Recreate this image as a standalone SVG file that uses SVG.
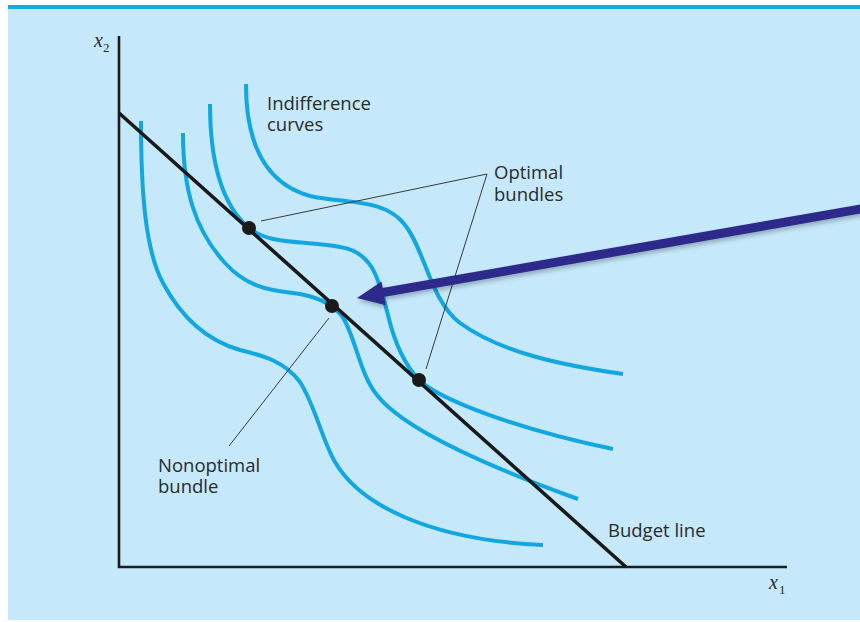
<svg xmlns="http://www.w3.org/2000/svg" width="860" height="622" viewBox="0 0 860 622">
  <style>
    .ic { fill: none; stroke: #12A7E0; stroke-width: 4; stroke-linecap: butt; }
    .axis { fill: none; stroke: #1c1c1c; stroke-width: 2.6; }
    .budget { fill: none; stroke: #1a1a1a; stroke-width: 3.6; }
    .callout { fill: none; stroke: #3a3a3a; stroke-width: 1; }
    .dot { fill: #1a1a1a; }
    .lbl { font-family: "Open Sans", "DejaVu Sans", sans-serif; font-size: 18.5px; fill: #2b2b2b; }
    .ax { font-family: "Liberation Serif", serif; fill: #2b2b2b; }
  </style>
  <defs>
    <filter id="shadow" x="-5%" y="-50%" width="110%" height="200%">
      <feDropShadow dx="1" dy="3" stdDeviation="2" flood-color="#000" flood-opacity="0.25"/>
    </filter>
  </defs>

  <rect x="0" y="0" width="860" height="622" fill="#ffffff"/>
  <rect x="8" y="9" width="852" height="611" fill="#C5E8FA"/>
  <rect x="8" y="5" width="852" height="4" fill="#0BAAE8"/>

  <g id="axes">
    <path class="axis" d="M119,36 V567 H787"/>
    <text class="ax" x="94" y="47" font-size="20" font-style="italic">x</text>
    <text class="ax" x="103" y="52" font-size="13">2</text>
    <text class="ax" x="769" y="589" font-size="20" font-style="italic">x</text>
    <text class="ax" x="779" y="594" font-size="13">1</text>
  </g>

  <g id="indifference-curves">
    <path class="ic" d="M141,121 C141,190 145,250 163,283 C180,315 205,340 240,350 C265,356 285,362 300,382 C315,405 322,440 335,462 C360,505 430,540 543,545"/>
    <path class="ic" d="M183,133 C183,190 195,230 225,263 C245,285 265,290 293,293 C315,296 330,302 342,316 C355,335 360,375 377,395 C400,425 470,460 578,499"/>
    <path class="ic" d="M210,104 C210,160 222,205 249,228 C270,245 300,240 340,247 C375,252 380,285 388,315 C395,345 405,365 419,380 C440,400 520,430 613,449"/>
    <path class="ic" d="M246,84 C246,150 270,185 310,196 C345,204 385,198 405,225 C425,250 430,300 460,323 C500,352 560,365 623,374"/>
  </g>

  <g id="budget-line">
    <line class="budget" x1="119" y1="113" x2="626" y2="567"/>
  </g>

  <g id="connectors">
    <polyline class="callout" points="261,221 487,174 426,369"/>
    <line class="callout" x1="329" y1="318" x2="229" y2="446"/>
  </g>

  <g id="bundles">
    <circle class="dot" cx="249" cy="228" r="7"/>
    <circle class="dot" cx="332" cy="306" r="7"/>
    <circle class="dot" cx="419" cy="380" r="7"/>
  </g>

  <g id="labels">
    <text class="lbl" x="267" y="110">Indifference</text>
    <text class="lbl" x="267" y="131">curves</text>
    <text class="lbl" x="494" y="179">Optimal</text>
    <text class="lbl" x="494" y="201">bundles</text>
    <text class="lbl" x="158" y="472">Nonoptimal</text>
    <text class="lbl" x="158" y="493">bundle</text>
    <text class="lbl" x="608" y="537">Budget line</text>
  </g>

  <g id="pointer-arrow" filter="url(#shadow)">
    <line x1="872" y1="207" x2="380" y2="293" stroke="#2E2A8C" stroke-width="9"/>
    <polygon points="357,298 381.5,281.6 385.7,305.2" fill="#2E2A8C"/>
  </g>
</svg>
